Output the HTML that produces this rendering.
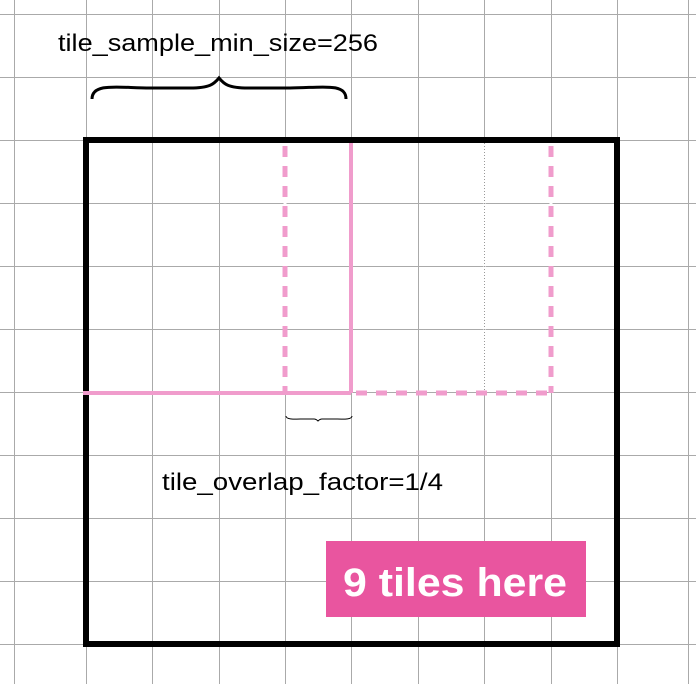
<!DOCTYPE html>
<html><head><meta charset="utf-8"><style>
html,body{margin:0;padding:0;background:#fff;}
svg{display:block;}
text{font-family:"Liberation Sans",Arial,sans-serif;}
</style></head><body>
<svg width="696" height="684" viewBox="0 0 696 684">
<g id="grid"></g>
<line x1="285" y1="143" x2="285" y2="393" stroke="#fff" stroke-width="3"/>
<line x1="551" y1="143" x2="551" y2="393" stroke="#fff" stroke-width="3"/>
<line x1="484.5" y1="143" x2="484.5" y2="392" stroke="#fff" stroke-width="2"/>
<line x1="484.5" y1="143" x2="484.5" y2="392" stroke="#999" stroke-width="1" stroke-dasharray="1,2"/>
<rect x="86" y="140" width="531" height="504" fill="none" stroke="#000" stroke-width="6"/>
<g stroke="#f09ccc" stroke-width="5" fill="none">
<line x1="351" y1="143" x2="351" y2="393" stroke-width="4"/>
<line x1="83" y1="393" x2="351" y2="393" stroke-width="4"/>
<line x1="285" y1="146" x2="285" y2="393" stroke-dasharray="11,9"/>
<line x1="356" y1="393" x2="553" y2="393" stroke-dasharray="11,9"/>
<line x1="551" y1="146" x2="551" y2="393" stroke-dasharray="11,9"/>
</g>
<text x="58" y="51" font-size="24" textLength="320" lengthAdjust="spacingAndGlyphs" fill="#000">tile_sample_min_size=256</text>
<path d="M92,99 C92,82 120,88 150,88 L190,88 C210,88 214,84 219,78 C224,84 228,88 248,88 L290,88 C320,88 346,82 346,99" fill="none" stroke="#000" stroke-width="3"/>
<path d="M286,416 C286,420 296,419 305,419 L314,419 C316,419 317,420 318,421 C319,420 320,419 322,419 L333,419 C342,419 352,420 352,416" fill="none" stroke="#000" stroke-width="1"/>
<text x="162" y="490" font-size="24" textLength="281" lengthAdjust="spacingAndGlyphs" fill="#000">tile_overlap_factor=1/4</text>
<rect x="326" y="541" width="260" height="76" fill="#e9559f"/>
<text x="343" y="596" font-size="40" font-weight="bold" textLength="224" lengthAdjust="spacingAndGlyphs" fill="#fff">9 tiles here</text>
</svg>
<script>
const gridXs=[14,86,152,219,285,351,418,484,551,617,688];
const gridYs=[14,77,140,203,266,329,392,455,518,581,644];
const g=document.getElementById('grid');
const ns='http://www.w3.org/2000/svg';
gridXs.forEach(function(x){
  const l=document.createElementNS(ns,'line');
  l.setAttribute('x1',x+0.5);l.setAttribute('x2',x+0.5);l.setAttribute('y1',0);l.setAttribute('y2',684);
  l.setAttribute('stroke','#aaa');l.setAttribute('stroke-width','1');
  
  
  g.appendChild(l);
});
gridYs.forEach(function(y){
  const l=document.createElementNS(ns,'line');
  l.setAttribute('y1',y+0.5);l.setAttribute('y2',y+0.5);l.setAttribute('x1',0);l.setAttribute('x2',696);
  l.setAttribute('stroke','#aaa');l.setAttribute('stroke-width','1');
  
  
  g.appendChild(l);
});
</script>
</body></html>
